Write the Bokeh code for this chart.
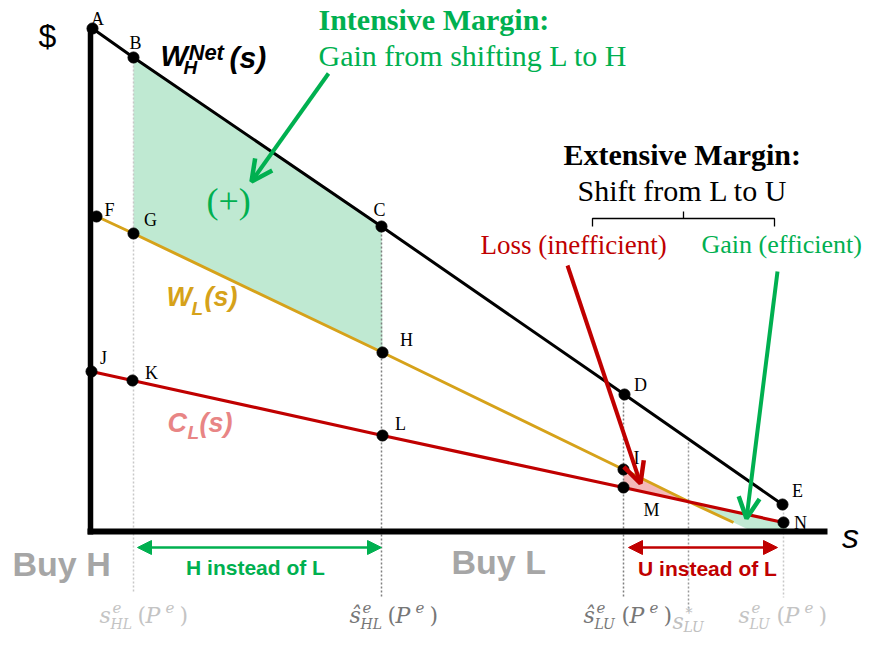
from bokeh.plotting import figure
from bokeh.models import Range1d, Arrow, OpenHead, NormalHead
from bokeh.core.properties import value
from bokeh.embed import file_html
from bokeh.resources import INLINE

# ---------------- data (s on x axis, $ on y axis) ----------------
# thresholds on the s axis
s_HL_e = 0.43      # s^e_HL(P^e)
s_HL_hat = 2.91    # s-hat^e_HL(P^e)
s_LU_hat = 5.33    # s-hat^e_LU(P^e)
s_LU_star = 5.98   # s*_LU
s_LU_e = 6.93      # s^e_LU(P^e)

# W_H^Net(s): points A..E
wh_names = ["A", "B", "C", "D", "E"]
wh_s = [0.02, 0.43, 2.91, 5.34, 6.92]
wh_v = [5.03, 4.74, 3.05, 1.37, 0.27]

# W_L(s): line and points F, G, H, I
wl_line_s = [0.00, 0.43, 2.92, 5.33, 5.98, 6.43]
wl_line_v = [3.18, 2.98, 1.79, 0.62, 0.30, 0.09]
wl_names = ["F", "G", "H", "I"]
wl_s = [0.06, 0.43, 2.92, 5.33]
wl_v = [3.15, 2.98, 1.79, 0.62]

# C_L(s): points J..N
cl_names = ["J", "K", "L", "M", "N"]
cl_s = [0.01, 0.42, 2.92, 5.33, 6.93]
cl_v = [1.60, 1.51, 0.96, 0.44, 0.09]
cross_v = 0.30     # W_L = C_L at s*_LU

# ---------------- figure ----------------
p = figure(width=864, height=638, x_range=Range1d(-0.90, 7.74), y_range=Range1d(-1.07, 5.31),
           output_backend="svg", toolbar_location=None, min_border=0,
           x_axis_type=None, y_axis_type=None)
p.grid.visible = False
p.outline_line_color = None
p.background_fill_color = "white"
p.border_fill_color = "white"

GREEN = "#00b050"
RED = "#c00000"
GOLD = "#d6a21a"
PINK_TXT = "#e88585"
GFILL = "#bfe9d2"
PFILL = "#f4b9b9"
LGRAY = "#c8c8c8"
DGRAY = "#7f7f7f"
SERIF = "Liberation Serif"
SANS = "Liberation Sans"
MATH = "DejaVu Serif"


def txt(x, y, s, size, color, font=SERIF, style="normal", align="left", xo=0, yo=0):
    p.text(x=[x], y=[y], text=[s], text_font=value(font), text_font_size=f"{size}px",
           text_font_style=style, text_color=color, text_align=align, text_baseline="middle",
           x_offset=xo, y_offset=yo)


# ---------------- shaded areas ----------------
# intensive margin: between W_H and W_L from s_HL_e to s_HL_hat
p.patch([wh_s[1], wh_s[2], wl_s[2], wl_s[1]], [wh_v[1], wh_v[2], wl_v[2], wl_v[1]],
        fill_color=GFILL, line_color=None)
# loss (inefficient): W_L above C_L from s_LU_hat to s*_LU
p.patch([wl_s[3], s_LU_star, cl_s[3]], [wl_v[3], cross_v, cl_v[3]], fill_color=PFILL, line_color=None)
# gain (efficient): C_L above W_L from s*_LU to s_LU_e
p.patch([s_LU_star, cl_s[4], 6.98, 6.62, wl_line_s[-1]], [cross_v, cl_v[4], 0.0, 0.0, wl_line_v[-1]],
        fill_color=GFILL, line_color=None, fill_alpha=0.95)

# ---------------- dotted guide lines ----------------
p.line([s_HL_e, s_HL_e], [wh_v[1], -0.61], line_color=LGRAY, line_width=1.5, line_dash="2 2")
p.line([s_HL_hat, s_HL_hat], [wh_v[2], -0.67], line_color=DGRAY, line_width=1.5, line_dash="2 2")
p.line([s_LU_hat, s_LU_hat], [wh_v[3], -0.66], line_color=DGRAY, line_width=1.5, line_dash="2 2")
p.line([s_LU_star, s_LU_star], [0.89, -0.80], line_color="#9a9a9a", line_width=1.5, line_dash="2 2")
p.line([s_LU_e, s_LU_e], [wh_v[4], -0.66], line_color=LGRAY, line_width=1.5, line_dash="2 2")

# ---------------- curves ----------------
p.line(wl_line_s, wl_line_v, line_color=GOLD, line_width=3)
p.line(cl_s, cl_v, line_color=RED, line_width=3.2)
p.line(wh_s, wh_v, line_color="black", line_width=3)

# axes
p.line([0, 0], [wh_v[0], -0.03], line_color="black", line_width=5.5)
p.line([-0.03, 7.37], [0, 0], line_color="black", line_width=6)

# points
p.scatter(wh_s + wl_s + cl_s, wh_v + wl_v + cl_v, size=11, color="black")

# point labels
lab_names = wh_names + wl_names + cl_names
lab_x = [0.07, 0.45, 2.89, 5.50, 7.07, 0.19, 0.60, 3.16, 5.46, 0.13, 0.61, 3.10, 5.61, 7.10]
lab_y = [5.13, 4.89, 3.22, 1.47, 0.41, 3.22, 3.12, 1.92, 0.74, 1.74, 1.59, 1.08, 0.22, 0.09]
p.text(x=lab_x, y=lab_y, text=lab_names, text_font=value(SERIF), text_font_size="18px",
       text_color="black", text_align="center", text_baseline="middle")

# ---------------- arrows ----------------
p.add_layout(Arrow(end=OpenHead(size=21, line_width=4.5, line_color=GREEN),
                   x_start=2.38, y_start=4.58, x_end=1.61, y_end=3.50,
                   line_color=GREEN, line_width=4))
p.add_layout(Arrow(end=OpenHead(size=21, line_width=4.5, line_color=RED),
                   x_start=4.77, y_start=2.66, x_end=5.50, y_end=0.48,
                   line_color=RED, line_width=4))
p.add_layout(Arrow(end=OpenHead(size=21, line_width=4.5, line_color=GREEN),
                   x_start=6.87, y_start=2.60, x_end=6.56, y_end=0.13,
                   line_color=GREEN, line_width=4))

p.add_layout(Arrow(start=NormalHead(size=14, fill_color=GREEN, line_color=GREEN),
                   end=NormalHead(size=14, fill_color=GREEN, line_color=GREEN),
                   x_start=s_HL_e + 0.04, y_start=-0.16, x_end=s_HL_hat, y_end=-0.16,
                   line_color=GREEN, line_width=2.5))
p.add_layout(Arrow(start=NormalHead(size=14, fill_color=RED, line_color=RED),
                   end=NormalHead(size=14, fill_color=RED, line_color=RED),
                   x_start=s_LU_hat + 0.05, y_start=-0.16, x_end=s_LU_e - 0.06, y_end=-0.16,
                   line_color=RED, line_width=2.5))

# brace over the two extensive-margin effects
p.multi_line([[5.02, 5.02, 6.84, 6.84], [5.93, 5.93]], [[3.05, 3.13, 3.13, 3.05], [3.13, 3.20]],
             line_color="black", line_width=1.3)

# ---------------- texts (y = visual centre) ----------------
txt(-0.43, 4.96, "$", 32, "black", font=SANS, align="center")
txt(7.60, -0.04, "s", 34, "black", font=SANS, style="italic", align="center")

# W_H^Net(s)
txt(0.70, 4.755, "W", 29, "black", font=SANS, style="bold italic")
txt(0.70, 4.755, "H", 19, "black", font=SANS, style="bold italic", xo=23, yo=11)
txt(0.70, 4.755, "Net", 22, "black", font=SANS, style="bold italic", xo=28, yo=-4)
txt(0.70, 4.755, "(s)", 30, "black", font=SANS, style="bold italic", xo=69, yo=1)
# W_L(s)
txt(0.76, 2.345, "W", 27, GOLD, font=SANS, style="bold italic")
txt(0.76, 2.345, "L", 19, GOLD, font=SANS, style="bold italic", xo=25, yo=11)
txt(0.76, 2.345, "(s)", 27, GOLD, font=SANS, style="bold italic", xo=38)
# C_L(s)
txt(0.77, 1.09, "C", 27, PINK_TXT, font=SANS, style="bold italic")
txt(0.77, 1.09, "L", 19, PINK_TXT, font=SANS, style="bold italic", xo=20, yo=10)
txt(0.77, 1.09, "(s)", 27, PINK_TXT, font=SANS, style="bold italic", xo=32)

txt(2.28, 5.125, "Intensive Margin:", 30, GREEN, style="bold")
txt(2.28, 4.76, "Gain from shifting L to H", 30, GREEN)
txt(1.16, 3.31, "(+)", 36, GREEN)
txt(4.73, 3.77, "Extensive Margin:", 30, "black", style="bold")
txt(4.87, 3.41, "Shift from L to U", 30, "black")
txt(3.90, 2.87, "Loss (inefficient)", 27, RED)
txt(6.11, 2.87, "Gain (efficient)", 26, GREEN)

txt(-0.78, -0.32, "Buy H", 34, "#a6a6a6", font=SANS, style="bold")
txt(3.61, -0.30, "Buy L", 34, "#a6a6a6", font=SANS, style="bold")
txt(1.65, -0.36, "H instead of L", 21, GREEN, font=SANS, style="bold", align="center")
txt(6.17, -0.37, "U instead of L", 21, RED, font=SANS, style="bold", align="center")


def math_label(x, y, base, sub, color):
    txt(x, y, base, 22, color, font=MATH, style="italic")
    txt(x, y, "e", 15, color, font=MATH, style="italic", xo=13, yo=-8)
    txt(x, y, sub, 14, color, font=MATH, style="italic", xo=11, yo=8)
    txt(x, y, "(", 22, color, font=MATH, xo=38)
    txt(x, y, "P", 22, color, font=MATH, style="italic", xo=46)
    txt(x, y, "e", 15, color, font=MATH, style="italic", xo=66, yo=-8)
    txt(x, y, ")", 22, color, font=MATH, xo=80)


math_label(s_HL_e - 0.34, -0.84, "s", "HL", "#c4c4c4")
math_label(s_HL_hat - 0.32, -0.84, "\u015d", "HL", "#777777")
math_label(s_LU_hat - 0.40, -0.84, "\u015d", "LU", "#777777")
math_label(s_LU_e - 0.45, -0.84, "s", "LU", "#c4c4c4")
txt(s_LU_star - 0.16, -0.90, "s", 22, "#c0c0c0", font=MATH, style="italic")
txt(s_LU_star - 0.16, -0.90, "*", 14, "#c0c0c0", font=MATH, style="italic", xo=13, yo=-9)
txt(s_LU_star - 0.16, -0.90, "LU", 14, "#c0c0c0", font=MATH, style="italic", xo=11, yo=5)

open("out.html", "w").write(file_html(p, INLINE))
